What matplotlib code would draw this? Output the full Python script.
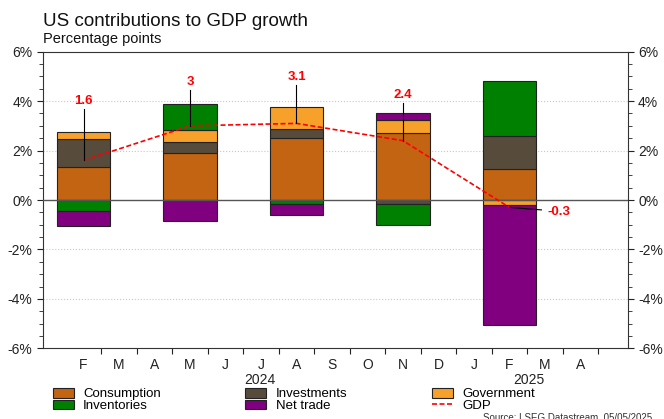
import numpy as np
import matplotlib.pyplot as plt
from matplotlib.ticker import MultipleLocator, FuncFormatter, FixedLocator

plt.rcParams['font.family'] = ['Liberation Sans', 'DejaVu Sans']

# quarterly contributions (percentage points), bars centred on the middle month
quarter_pos = [1, 4, 7, 10, 13]
consumption = [1.34, 1.91, 2.51, 2.71, 1.26]
investments = [1.13, 0.44, 0.37, -0.17, 1.32]
government = [0.29, 0.50, 0.87, 0.54, -0.21]
inventories = [-0.44, 1.05, -0.18, -0.83, 2.25]
net_trade = [-0.62, -0.83, -0.43, 0.27, -4.85]
gdp = [1.6, 3.0, 3.1, 2.4, -0.3]
gdp_labels = ['1.6', '3', '3.1', '2.4', '-0.3']

month_labels = ['F', 'M', 'A', 'M', 'J', 'J', 'A', 'S', 'O', 'N', 'D', 'J', 'F', 'M', 'A']
years = ['2024', '2025']

series = [
    ('Consumption', consumption, '#C26411'),
    ('Investments', investments, '#574B3C'),
    ('Government', government, '#F7A02A'),
    ('Inventories', inventories, '#008000'),
    ('Net trade', net_trade, '#800080'),
]

fig = plt.figure(figsize=(6.64, 4.19), dpi=100)
ax = fig.add_axes([0.0643, 0.1687, 0.881, 0.7079])

x = np.array(quarter_pos, dtype=float)
pos_base = np.zeros(len(x))
neg_base = np.zeros(len(x))
handles = {}
for name, vals, color in series:
    v = np.array(vals)
    bottom = np.where(v >= 0, pos_base, neg_base)
    b = ax.bar(x, v, width=1.5, bottom=bottom, color=color,
               edgecolor='#222222', linewidth=0.8, zorder=3)
    handles[name] = b
    pos_base = pos_base + np.where(v >= 0, v, 0)
    neg_base = neg_base + np.where(v < 0, v, 0)

line, = ax.plot(x, gdp, color='red', linestyle='--', dashes=(3, 1.5),
                linewidth=1.2, zorder=5)
handles['GDP'] = line

# GDP labels with leader lines
label_y = [4.0, 4.79, 4.99, 4.26]
for xi, yi, ly, txt in zip(x[:4], gdp[:4], label_y, gdp_labels[:4]):
    ax.plot([xi, xi], [yi, ly - 0.33], color='black', linewidth=0.8, zorder=6)
    ax.text(xi, ly, txt, color='red', fontsize=9.5, fontweight='bold',
            ha='center', va='center', zorder=7)
ax.plot([x[4], x[4] + 0.9], [gdp[4], gdp[4] - 0.1], color='black',
        linewidth=0.8, zorder=6)
ax.text(x[4] + 1.07, gdp[4] - 0.18, gdp_labels[4], color='red', fontsize=9.5,
        fontweight='bold', ha='left', va='center', zorder=7)

ax.axhline(0, color='#555555', linewidth=1, zorder=4)
for g in [-4, -2, 2, 4]:
    ax.axhline(g, color='#c8c8c8', linewidth=0.8, linestyle=':', zorder=1)

ax.set_ylim(-6, 6)
ax.set_xlim(-0.15, 16.33)
ax.yaxis.set_major_locator(MultipleLocator(2))
ax.yaxis.set_minor_locator(MultipleLocator(0.5))
ax.yaxis.set_major_formatter(FuncFormatter(lambda v, p: f'{v:.0f}%'))
ax.tick_params(axis='y', which='both', direction='out', left=True, right=True,
               labelleft=True, labelright=True, labelsize=10, colors='#222222')
ax.tick_params(axis='y', which='major', length=4)
ax.tick_params(axis='y', which='minor', length=3)

# month boundaries get the ticks, month centres get the letters
months = np.arange(1, len(month_labels) + 1)
ax.xaxis.set_major_locator(FixedLocator(months + 0.5))
ax.xaxis.set_major_formatter(FuncFormatter(lambda v, p: ''))
ax.xaxis.set_minor_locator(FixedLocator(months))
ax.set_xticklabels(month_labels, minor=True)
ax.tick_params(axis='x', which='major', direction='out', length=4, color='#222222')
ax.tick_params(axis='x', which='minor', length=0, pad=7, labelsize=10, labelcolor='#222222')

for yr, xp in zip(years, [5.97, 13.55]):
    ax.text(xp, -0.108, yr, transform=ax.get_xaxis_transform(), ha='center',
            va='center', fontsize=10, color='#222222')

for s in ax.spines.values():
    s.set_color('#333333')
    s.set_linewidth(0.8)

fig.text(42.7 / 664, 1 - 26 / 419, 'US contributions to GDP growth', fontsize=13.5,
         va='baseline', color='#111111')
fig.text(42.7 / 664, 1 - 42.5 / 419, 'Percentage points', fontsize=10.5,
         va='baseline', color='#111111')

order = ['Consumption', 'Inventories', 'Investments', 'Net trade', 'Government', 'GDP']
fig.legend([handles[k] for k in order], order, loc='upper left',
           bbox_to_anchor=(0.0794, 1 - 388 / 419), ncol=3, frameon=False,
           fontsize=9.5, handlelength=1.6, handleheight=0.75, handletextpad=0.7,
           columnspacing=6.4, labelspacing=-0.05, borderpad=0, borderaxespad=0)

fig.text(483 / 664, 1 - 412 / 419, 'Source: LSEG Datastream, 05/05/2025',
         fontsize=7, va='top', color='#333333')

fig.savefig('out.png', dpi=100)
